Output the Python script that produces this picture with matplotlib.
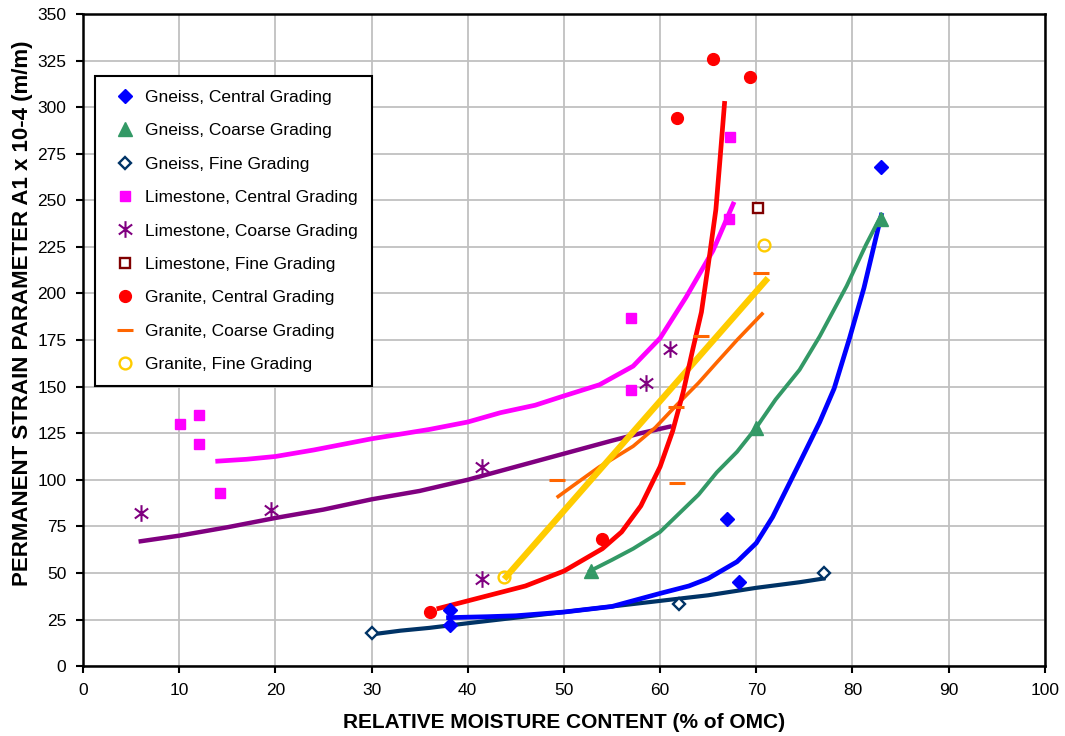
import numpy as np
import matplotlib
matplotlib.use("Agg")
import matplotlib.pyplot as plt
from matplotlib.path import Path

plt.rcParams["font.family"] = ["Liberation Sans", "DejaVu Sans"]

# ===================== DATA =====================
# measured points
gn_cen_x = [83, 67, 68.2, 38.2, 38.2]
gn_cen_y = [268, 79, 45, 30, 22]
gn_crs_x = [83, 70, 52.8]
gn_crs_y = [240, 128, 51]
gn_fin_x = [30, 62, 77]
gn_fin_y = [17.5, 33.5, 50]
ls_cen_x = [10.1, 12.1, 12.1, 14.2, 57, 57, 67.3, 67.2]
ls_cen_y = [130, 135, 119, 93, 187, 148, 284, 240]
ls_crs_x = [6, 19.5, 41.5, 41.5, 58.5, 61]
ls_crs_y = [82, 84, 107, 47, 152, 170]
ls_fin_x = [70.2]
ls_fin_y = [246]
gr_cen_x = [36.1, 54, 61.8, 65.5, 69.3]
gr_cen_y = [29, 68, 294, 326, 316]
gr_crs_x = [49.3, 61.8, 61.7, 64.3, 70.5]
gr_crs_y = [100, 98.5, 139, 177, 211]
gr_fin_x = [43.8, 70.8]
gr_fin_y = [48, 226]

# fitted curves
fit_gn_cen_x = [38, 42, 45, 50, 55, 60, 63, 65, 68, 70, 71.7, 74.5, 76.6, 78.1, 79.7, 81.2, 83]
fit_gn_cen_y = [26, 26.5, 27, 29, 32, 39, 43, 47, 56, 66, 80, 109, 131, 149, 176, 203, 242]
fit_gn_crs_x = [52.7, 55, 57.2, 60, 62, 64, 65.9, 68, 70, 72, 74.5, 76.6, 79.4, 81.4, 83]
fit_gn_crs_y = [51, 57, 63, 72, 82, 92, 104, 115, 128, 143, 159, 177, 204, 226, 242]
fit_gn_fin_x = [30, 33, 36, 40, 45, 50, 55, 60, 65, 70, 74.5, 77]
fit_gn_fin_y = [17, 19, 20.5, 23, 26, 29, 32, 35, 38, 42, 45, 47]
fit_ls_cen_x = [14, 17, 20, 24, 27, 30, 33, 36, 40, 43.4, 47, 50, 53.7, 57.2, 60, 62.7, 65.5, 67.6]
fit_ls_cen_y = [110, 111, 112.5, 116, 119, 122, 124.5, 127, 131, 136, 140, 145, 151, 161, 176, 198, 223, 248]
fit_ls_crs_x = [6, 10, 15, 20, 25, 30, 35, 40, 45, 50, 55, 58, 61]
fit_ls_crs_y = [67, 70, 74.5, 79.5, 84, 89.5, 94, 100, 107, 114, 121, 125, 128.5]
fit_gr_cen_x = [37, 40, 43, 46, 50, 54, 56, 58, 60, 61.3, 62.4, 63.4, 64.3, 65, 65.8, 66.2, 66.7]
fit_gr_cen_y = [31, 35, 39, 43, 51, 63, 72, 86, 107, 126, 147, 170, 190, 215, 245, 270, 302]
fit_gr_crs_x = [49.4, 51, 53.7, 55, 57.2, 59.5, 61.7, 64, 65.9, 68, 70.6]
fit_gr_crs_y = [91, 97, 107, 111, 118, 128, 140, 152, 163, 175, 189]
fit_gr_fin_x = [44, 71]
fit_gr_fin_y = [48, 207]

# Excel style star: vertical bar + x
star = Path([(0, -1), (0, 1), (-0.8, -0.6), (0.8, 0.6), (-0.8, 0.6), (0.8, -0.6)],
            [Path.MOVETO, Path.LINETO] * 3)

fig = plt.figure(figsize=(10.65, 7.36), dpi=100)
ax = fig.add_axes([0.078, 0.095, 0.903, 0.886])

# curves
ax.plot(fit_gn_fin_x, fit_gn_fin_y, color="#003366", lw=3.0, zorder=2)
ax.plot(fit_gn_cen_x, fit_gn_cen_y, color="#0000FF", lw=3.4, zorder=2)
ax.plot(fit_gn_crs_x, fit_gn_crs_y, color="#339966", lw=2.8, zorder=2)
ax.plot(fit_ls_cen_x, fit_ls_cen_y, color="#FF00FF", lw=3.4, zorder=2)
ax.plot(fit_ls_crs_x, fit_ls_crs_y, color="#800080", lw=3.2, zorder=2)
ax.plot(fit_gr_crs_x, fit_gr_crs_y, color="#FF6600", lw=2.6, zorder=2)
ax.plot(fit_gr_fin_x, fit_gr_fin_y, color="#FFCC00", lw=4.5, zorder=2)
ax.plot(fit_gr_cen_x, fit_gr_cen_y, color="#FF0000", lw=3.4, zorder=2)

# markers
ax.plot(gn_cen_x, gn_cen_y, ls="none", marker="D", ms=7.5, color="#0000FF", label="Gneiss, Central Grading", zorder=3)
ax.plot(gn_crs_x, gn_crs_y, ls="none", marker="^", ms=9.5, color="#339966", label="Gneiss, Coarse Grading", zorder=3)
ax.plot(gn_fin_x, gn_fin_y, ls="none", marker="D", ms=6.5, mfc="white", mec="#003366", mew=1.7,
        label="Gneiss, Fine Grading", zorder=3)
ax.plot(ls_cen_x, ls_cen_y, ls="none", marker="s", ms=7.5, color="#FF00FF", label="Limestone, Central Grading", zorder=3)
ax.plot(ls_crs_x, ls_crs_y, ls="none", marker=star, ms=12, mec="#800080", mew=1.5,
        label="Limestone, Coarse Grading", zorder=3)
ax.plot(ls_fin_x, ls_fin_y, ls="none", marker="s", ms=7, mfc="white", mec="#800000", mew=1.7,
        label="Limestone, Fine Grading", zorder=3)
ax.plot(gr_cen_x, gr_cen_y, ls="none", marker="o", ms=8.5, color="#FF0000", label="Granite, Central Grading", zorder=3)
ax.plot(gr_crs_x, gr_crs_y, ls="none", marker="_", ms=12, mew=2.2, color="#FF6600", label="Granite, Coarse Grading", zorder=3)
ax.plot(gr_fin_x, gr_fin_y, ls="none", marker="o", ms=8.5, mfc="none", mec="#FFCC00", mew=1.7,
        label="Granite, Fine Grading", zorder=3)

ax.set_xlim(0, 100)
ax.set_ylim(0, 350)
ax.set_xticks(np.arange(0, 101, 10))
ax.set_yticks(np.arange(0, 351, 25))
ax.grid(True, color="#C0C0C0", lw=1.3)
ax.set_axisbelow(True)
for s in ax.spines.values():
    s.set_linewidth(1.8)
    s.set_color("black")
ax.tick_params(direction="out", length=5, width=1.5, labelsize=12.5, pad=7)

ax.set_xlabel("RELATIVE MOISTURE CONTENT (% of OMC)", fontsize=15, fontweight="bold", labelpad=11)
ax.set_ylabel("PERMANENT STRAIN PARAMETER A1 x 10-4 (m/m)", fontsize=16, fontweight="bold")
ax.yaxis.set_label_coords(-0.052, 0.541)

leg = ax.legend(loc="upper left", bbox_to_anchor=(0.0125, 0.905), borderaxespad=0,
                fontsize=12.5, frameon=True, fancybox=False, handlelength=1.9,
                handletextpad=0.2, labelspacing=1.05, borderpad=0.8)
leg.get_frame().set_edgecolor("black")
leg.get_frame().set_linewidth(1.5)
leg.get_frame().set_alpha(1)

fig.savefig("out.png", dpi=100)
